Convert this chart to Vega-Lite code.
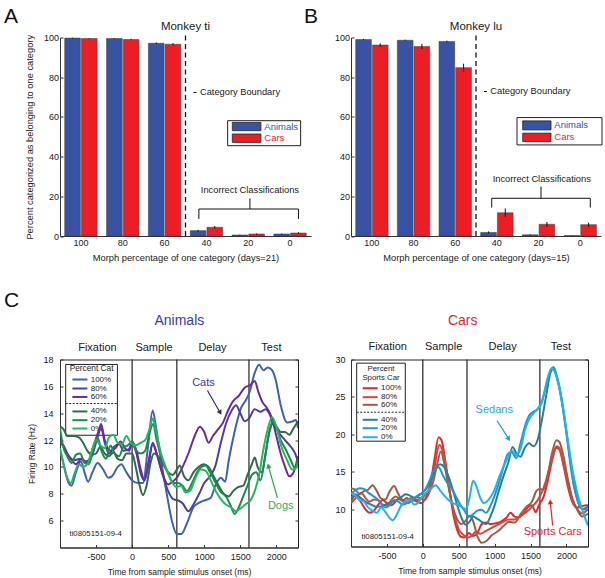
{
"$schema":"https://vega.github.io/schema/vega-lite/v6.json",
"padding":{"left":3,"top":5.5,"right":0,"bottom":0},
"config":{
 "font":"Liberation Sans",
 "view":{"stroke":null},
 "axis":{"grid":false,"domainColor":"#333","tickColor":"#333","labelColor":"#1a1a1a","titleColor":"#1a1a1a","labelFontSize":9,"titleFontSize":9.3,"titleFontWeight":"normal","labelFlush":false,"labelOverlap":false,"domainWidth":1,"tickWidth":1}
},
"datasets":{
 "perfTi":[
  {"morph":"100","category":"Animals","pct":99.7,"lo":99.5,"hi":99.9},
  {"morph":"100","category":"Cars","pct":99.5,"lo":99.3,"hi":99.7},
  {"morph":"80","category":"Animals","pct":99.5,"lo":99.3,"hi":99.7},
  {"morph":"80","category":"Cars","pct":99.0,"lo":98.7,"hi":99.3},
  {"morph":"60","category":"Animals","pct":97.1,"lo":96.7,"hi":97.5},
  {"morph":"60","category":"Cars","pct":96.6,"lo":96.0,"hi":97.2},
  {"morph":"40","category":"Animals","pct":2.7,"lo":2.3,"hi":3.1},
  {"morph":"40","category":"Cars","pct":4.4,"lo":3.8,"hi":5.0},
  {"morph":"20","category":"Animals","pct":0.5,"lo":0.3,"hi":0.7},
  {"morph":"20","category":"Cars","pct":1.0,"lo":0.7,"hi":1.3},
  {"morph":"0","category":"Animals","pct":1.0,"lo":0.7,"hi":1.3},
  {"morph":"0","category":"Cars","pct":1.5,"lo":1.1,"hi":1.9}
 ],
 "perfLu":[
  {"morph":"100","category":"Animals","pct":99.0,"lo":98.7,"hi":99.3},
  {"morph":"100","category":"Cars","pct":96.2,"lo":95.4,"hi":97.0},
  {"morph":"80","category":"Animals","pct":98.6,"lo":98.3,"hi":98.9},
  {"morph":"80","category":"Cars","pct":95.5,"lo":94.2,"hi":96.8},
  {"morph":"60","category":"Animals","pct":98.0,"lo":97.6,"hi":98.4},
  {"morph":"60","category":"Cars","pct":84.8,"lo":82.8,"hi":86.8},
  {"morph":"40","category":"Animals","pct":1.8,"lo":1.3,"hi":2.3},
  {"morph":"40","category":"Cars","pct":11.7,"lo":9.5,"hi":13.9},
  {"morph":"20","category":"Animals","pct":0.6,"lo":0.4,"hi":0.8},
  {"morph":"20","category":"Cars","pct":5.9,"lo":4.7,"hi":7.1},
  {"morph":"0","category":"Animals","pct":0.2,"lo":0.1,"hi":0.3},
  {"morph":"0","category":"Cars","pct":5.7,"lo":4.7,"hi":6.7}
 ],
 "animals":[
  {"pct":"100%","t":-1000,"hz":11.3},{"pct":"100%","t":-950,"hz":10.2},{"pct":"100%","t":-880,"hz":8.8},{"pct":"100%","t":-840,"hz":8.6},{"pct":"100%","t":-780,"hz":9.6},{"pct":"100%","t":-710,"hz":10.4},{"pct":"100%","t":-660,"hz":9.6},{"pct":"100%","t":-610,"hz":8.9},{"pct":"100%","t":-550,"hz":9.6},{"pct":"100%","t":-480,"hz":10.3},{"pct":"100%","t":-400,"hz":9.8},{"pct":"100%","t":-330,"hz":9.2},{"pct":"100%","t":-280,"hz":9.3},{"pct":"100%","t":-200,"hz":10.0},{"pct":"100%","t":-150,"hz":10.2},{"pct":"100%","t":-80,"hz":9.6},{"pct":"100%","t":0,"hz":9.0},{"pct":"100%","t":80,"hz":8.8},{"pct":"100%","t":150,"hz":8.8},{"pct":"100%","t":220,"hz":11.5},{"pct":"100%","t":285,"hz":14.2},{"pct":"100%","t":330,"hz":13.0},{"pct":"100%","t":400,"hz":10.5},{"pct":"100%","t":480,"hz":8.0},{"pct":"100%","t":560,"hz":5.8},{"pct":"100%","t":620,"hz":5.0},{"pct":"100%","t":680,"hz":5.0},{"pct":"100%","t":760,"hz":5.8},{"pct":"100%","t":850,"hz":7.0},{"pct":"100%","t":920,"hz":7.3},{"pct":"100%","t":1000,"hz":7.5},{"pct":"100%","t":1090,"hz":7.7},{"pct":"100%","t":1160,"hz":8.7},{"pct":"100%","t":1230,"hz":9.2},{"pct":"100%","t":1290,"hz":8.9},{"pct":"100%","t":1340,"hz":10.5},{"pct":"100%","t":1420,"hz":12.6},{"pct":"100%","t":1510,"hz":14.4},{"pct":"100%","t":1580,"hz":15.0},{"pct":"100%","t":1630,"hz":15.6},{"pct":"100%","t":1700,"hz":17.0},{"pct":"100%","t":1760,"hz":17.6},{"pct":"100%","t":1820,"hz":17.2},{"pct":"100%","t":1880,"hz":17.4},{"pct":"100%","t":1940,"hz":17.2},{"pct":"100%","t":1990,"hz":16.5},{"pct":"100%","t":2060,"hz":14.6},{"pct":"100%","t":2150,"hz":13.3},{"pct":"100%","t":2230,"hz":13.4},{"pct":"100%","t":2270,"hz":13.5},{"pct":"100%","t":2300,"hz":12.9},
  {"pct":"80%","t":-1000,"hz":11.9},{"pct":"80%","t":-950,"hz":11.5},{"pct":"80%","t":-880,"hz":10.8},{"pct":"80%","t":-800,"hz":10.5},{"pct":"80%","t":-720,"hz":10.6},{"pct":"80%","t":-650,"hz":10.4},{"pct":"80%","t":-560,"hz":10.8},{"pct":"80%","t":-480,"hz":12.2},{"pct":"80%","t":-430,"hz":12.9},{"pct":"80%","t":-380,"hz":11.8},{"pct":"80%","t":-320,"hz":11.0},{"pct":"80%","t":-250,"hz":11.5},{"pct":"80%","t":-180,"hz":11.7},{"pct":"80%","t":-120,"hz":11.2},{"pct":"80%","t":-50,"hz":11.3},{"pct":"80%","t":0,"hz":11.7},{"pct":"80%","t":60,"hz":11.0},{"pct":"80%","t":120,"hz":9.5},{"pct":"80%","t":170,"hz":9.0},{"pct":"80%","t":230,"hz":10.5},{"pct":"80%","t":285,"hz":11.7},{"pct":"80%","t":340,"hz":11.0},{"pct":"80%","t":420,"hz":9.5},{"pct":"80%","t":500,"hz":8.2},{"pct":"80%","t":570,"hz":7.6},{"pct":"80%","t":640,"hz":7.5},{"pct":"80%","t":700,"hz":7.3},{"pct":"80%","t":780,"hz":6.7},{"pct":"80%","t":850,"hz":7.2},{"pct":"80%","t":930,"hz":8.0},{"pct":"80%","t":1000,"hz":8.8},{"pct":"80%","t":1080,"hz":9.3},{"pct":"80%","t":1150,"hz":10.0},{"pct":"80%","t":1230,"hz":11.8},{"pct":"80%","t":1300,"hz":13.2},{"pct":"80%","t":1380,"hz":14.2},{"pct":"80%","t":1440,"hz":14.6},{"pct":"80%","t":1500,"hz":14.0},{"pct":"80%","t":1560,"hz":13.4},{"pct":"80%","t":1620,"hz":13.6},{"pct":"80%","t":1700,"hz":14.3},{"pct":"80%","t":1780,"hz":14.1},{"pct":"80%","t":1850,"hz":14.3},{"pct":"80%","t":1900,"hz":14.0},{"pct":"80%","t":1960,"hz":13.2},{"pct":"80%","t":2040,"hz":12.5},{"pct":"80%","t":2120,"hz":12.0},{"pct":"80%","t":2200,"hz":11.5},{"pct":"80%","t":2260,"hz":11.0},{"pct":"80%","t":2300,"hz":10.4},
  {"pct":"60%","t":-1000,"hz":11.8},{"pct":"60%","t":-950,"hz":11.6},{"pct":"60%","t":-900,"hz":11.0},{"pct":"60%","t":-850,"hz":10.6},{"pct":"60%","t":-780,"hz":10.2},{"pct":"60%","t":-700,"hz":10.6},{"pct":"60%","t":-620,"hz":10.3},{"pct":"60%","t":-540,"hz":11.5},{"pct":"60%","t":-470,"hz":12.6},{"pct":"60%","t":-430,"hz":13.2},{"pct":"60%","t":-380,"hz":12.0},{"pct":"60%","t":-300,"hz":11.2},{"pct":"60%","t":-230,"hz":11.4},{"pct":"60%","t":-160,"hz":11.9},{"pct":"60%","t":-100,"hz":11.4},{"pct":"60%","t":-40,"hz":11.2},{"pct":"60%","t":0,"hz":11.9},{"pct":"60%","t":60,"hz":11.2},{"pct":"60%","t":120,"hz":9.8},{"pct":"60%","t":170,"hz":9.0},{"pct":"60%","t":230,"hz":10.2},{"pct":"60%","t":285,"hz":11.8},{"pct":"60%","t":340,"hz":11.0},{"pct":"60%","t":420,"hz":9.5},{"pct":"60%","t":500,"hz":8.7},{"pct":"60%","t":560,"hz":8.9},{"pct":"60%","t":620,"hz":9.2},{"pct":"60%","t":700,"hz":10.0},{"pct":"60%","t":780,"hz":11.0},{"pct":"60%","t":860,"hz":12.2},{"pct":"60%","t":940,"hz":13.0},{"pct":"60%","t":1000,"hz":12.6},{"pct":"60%","t":1060,"hz":11.8},{"pct":"60%","t":1120,"hz":12.3},{"pct":"60%","t":1190,"hz":12.8},{"pct":"60%","t":1260,"hz":13.3},{"pct":"60%","t":1330,"hz":14.2},{"pct":"60%","t":1400,"hz":14.9},{"pct":"60%","t":1480,"hz":15.3},{"pct":"60%","t":1560,"hz":15.9},{"pct":"60%","t":1640,"hz":16.1},{"pct":"60%","t":1700,"hz":16.4},{"pct":"60%","t":1750,"hz":15.6},{"pct":"60%","t":1800,"hz":14.9},{"pct":"60%","t":1880,"hz":14.3},{"pct":"60%","t":1940,"hz":13.6},{"pct":"60%","t":2000,"hz":12.3},{"pct":"60%","t":2060,"hz":11.0},{"pct":"60%","t":2120,"hz":10.0},{"pct":"60%","t":2180,"hz":9.3},{"pct":"60%","t":2230,"hz":9.5},{"pct":"60%","t":2300,"hz":10.8},
  {"pct":"40%","t":-1000,"hz":13.0},{"pct":"40%","t":-950,"hz":12.8},{"pct":"40%","t":-900,"hz":12.3},{"pct":"40%","t":-820,"hz":12.3},{"pct":"40%","t":-740,"hz":12.2},{"pct":"40%","t":-680,"hz":11.8},{"pct":"40%","t":-620,"hz":11.2},{"pct":"40%","t":-560,"hz":10.9},{"pct":"40%","t":-500,"hz":11.0},{"pct":"40%","t":-440,"hz":11.5},{"pct":"40%","t":-380,"hz":11.0},{"pct":"40%","t":-320,"hz":10.8},{"pct":"40%","t":-260,"hz":11.1},{"pct":"40%","t":-200,"hz":10.6},{"pct":"40%","t":-140,"hz":10.5},{"pct":"40%","t":-80,"hz":11.0},{"pct":"40%","t":0,"hz":11.0},{"pct":"40%","t":50,"hz":10.0},{"pct":"40%","t":100,"hz":8.7},{"pct":"40%","t":150,"hz":7.9},{"pct":"40%","t":200,"hz":8.6},{"pct":"40%","t":260,"hz":10.4},{"pct":"40%","t":300,"hz":11.0},{"pct":"40%","t":360,"hz":10.8},{"pct":"40%","t":430,"hz":10.2},{"pct":"40%","t":500,"hz":9.6},{"pct":"40%","t":560,"hz":9.4},{"pct":"40%","t":620,"hz":9.8},{"pct":"40%","t":660,"hz":10.1},{"pct":"40%","t":720,"hz":9.3},{"pct":"40%","t":780,"hz":9.0},{"pct":"40%","t":850,"hz":9.6},{"pct":"40%","t":920,"hz":10.0},{"pct":"40%","t":990,"hz":10.2},{"pct":"40%","t":1060,"hz":10.0},{"pct":"40%","t":1130,"hz":9.3},{"pct":"40%","t":1200,"hz":8.6},{"pct":"40%","t":1270,"hz":8.0},{"pct":"40%","t":1340,"hz":7.8},{"pct":"40%","t":1400,"hz":8.2},{"pct":"40%","t":1470,"hz":8.5},{"pct":"40%","t":1540,"hz":8.6},{"pct":"40%","t":1600,"hz":9.4},{"pct":"40%","t":1660,"hz":10.2},{"pct":"40%","t":1700,"hz":10.7},{"pct":"40%","t":1740,"hz":10.0},{"pct":"40%","t":1800,"hz":9.6},{"pct":"40%","t":1850,"hz":11.0},{"pct":"40%","t":1900,"hz":12.5},{"pct":"40%","t":1950,"hz":13.2},{"pct":"40%","t":2000,"hz":13.0},{"pct":"40%","t":2060,"hz":12.6},{"pct":"40%","t":2120,"hz":12.6},{"pct":"40%","t":2180,"hz":12.4},{"pct":"40%","t":2240,"hz":12.9},{"pct":"40%","t":2300,"hz":13.4},
  {"pct":"20%","t":-1000,"hz":12.9},{"pct":"20%","t":-960,"hz":11.6},{"pct":"20%","t":-900,"hz":10.8},{"pct":"20%","t":-840,"hz":10.3},{"pct":"20%","t":-780,"hz":10.9},{"pct":"20%","t":-720,"hz":11.0},{"pct":"20%","t":-660,"hz":10.3},{"pct":"20%","t":-600,"hz":10.2},{"pct":"20%","t":-540,"hz":11.3},{"pct":"20%","t":-480,"hz":12.2},{"pct":"20%","t":-420,"hz":11.1},{"pct":"20%","t":-360,"hz":10.6},{"pct":"20%","t":-300,"hz":11.6},{"pct":"20%","t":-240,"hz":11.0},{"pct":"20%","t":-180,"hz":10.8},{"pct":"20%","t":-120,"hz":11.5},{"pct":"20%","t":-60,"hz":11.6},{"pct":"20%","t":0,"hz":11.9},{"pct":"20%","t":60,"hz":11.2},{"pct":"20%","t":120,"hz":11.0},{"pct":"20%","t":180,"hz":11.2},{"pct":"20%","t":240,"hz":12.5},{"pct":"20%","t":290,"hz":13.2},{"pct":"20%","t":340,"hz":12.0},{"pct":"20%","t":420,"hz":10.5},{"pct":"20%","t":500,"hz":9.5},{"pct":"20%","t":570,"hz":8.8},{"pct":"20%","t":640,"hz":8.8},{"pct":"20%","t":700,"hz":8.6},{"pct":"20%","t":760,"hz":8.2},{"pct":"20%","t":830,"hz":8.8},{"pct":"20%","t":900,"hz":9.6},{"pct":"20%","t":960,"hz":10.0},{"pct":"20%","t":1020,"hz":10.1},{"pct":"20%","t":1080,"hz":9.6},{"pct":"20%","t":1150,"hz":8.9},{"pct":"20%","t":1220,"hz":8.2},{"pct":"20%","t":1300,"hz":7.8},{"pct":"20%","t":1360,"hz":7.2},{"pct":"20%","t":1420,"hz":6.5},{"pct":"20%","t":1480,"hz":7.0},{"pct":"20%","t":1540,"hz":7.8},{"pct":"20%","t":1600,"hz":8.6},{"pct":"20%","t":1660,"hz":9.4},{"pct":"20%","t":1720,"hz":9.6},{"pct":"20%","t":1780,"hz":9.0},{"pct":"20%","t":1840,"hz":10.6},{"pct":"20%","t":1900,"hz":12.6},{"pct":"20%","t":1950,"hz":13.4},{"pct":"20%","t":2000,"hz":13.0},{"pct":"20%","t":2060,"hz":12.0},{"pct":"20%","t":2130,"hz":11.3},{"pct":"20%","t":2200,"hz":10.5},{"pct":"20%","t":2260,"hz":9.9},{"pct":"20%","t":2300,"hz":10.6},
  {"pct":"0%","t":-1000,"hz":11.4},{"pct":"0%","t":-960,"hz":10.4},{"pct":"0%","t":-900,"hz":9.2},{"pct":"0%","t":-850,"hz":8.8},{"pct":"0%","t":-800,"hz":9.5},{"pct":"0%","t":-740,"hz":10.2},{"pct":"0%","t":-680,"hz":10.0},{"pct":"0%","t":-620,"hz":10.2},{"pct":"0%","t":-560,"hz":11.2},{"pct":"0%","t":-500,"hz":12.0},{"pct":"0%","t":-440,"hz":11.6},{"pct":"0%","t":-380,"hz":11.4},{"pct":"0%","t":-320,"hz":12.2},{"pct":"0%","t":-260,"hz":12.4},{"pct":"0%","t":-200,"hz":11.8},{"pct":"0%","t":-140,"hz":11.7},{"pct":"0%","t":-80,"hz":12.3},{"pct":"0%","t":-20,"hz":11.8},{"pct":"0%","t":40,"hz":11.6},{"pct":"0%","t":120,"hz":11.8},{"pct":"0%","t":180,"hz":12.0},{"pct":"0%","t":240,"hz":12.8},{"pct":"0%","t":285,"hz":13.6},{"pct":"0%","t":330,"hz":12.7},{"pct":"0%","t":400,"hz":11.0},{"pct":"0%","t":480,"hz":9.8},{"pct":"0%","t":550,"hz":8.9},{"pct":"0%","t":620,"hz":8.5},{"pct":"0%","t":680,"hz":8.6},{"pct":"0%","t":740,"hz":8.1},{"pct":"0%","t":800,"hz":8.2},{"pct":"0%","t":880,"hz":9.2},{"pct":"0%","t":950,"hz":9.8},{"pct":"0%","t":1020,"hz":9.7},{"pct":"0%","t":1090,"hz":9.0},{"pct":"0%","t":1160,"hz":8.2},{"pct":"0%","t":1230,"hz":7.6},{"pct":"0%","t":1300,"hz":7.2},{"pct":"0%","t":1370,"hz":7.0},{"pct":"0%","t":1440,"hz":6.7},{"pct":"0%","t":1500,"hz":6.9},{"pct":"0%","t":1570,"hz":7.2},{"pct":"0%","t":1640,"hz":7.5},{"pct":"0%","t":1700,"hz":8.2},{"pct":"0%","t":1760,"hz":9.4},{"pct":"0%","t":1820,"hz":11.3},{"pct":"0%","t":1880,"hz":12.8},{"pct":"0%","t":1940,"hz":13.7},{"pct":"0%","t":2000,"hz":13.0},{"pct":"0%","t":2070,"hz":11.5},{"pct":"0%","t":2150,"hz":10.5},{"pct":"0%","t":2220,"hz":9.8},{"pct":"0%","t":2270,"hz":9.9},{"pct":"0%","t":2300,"hz":10.3}
 ],
 "cars":[
  {"pct":"100%","t":-1000,"hz":11.0},{"pct":"100%","t":-940,"hz":11.8},{"pct":"100%","t":-880,"hz":11.2},{"pct":"100%","t":-800,"hz":10.0},{"pct":"100%","t":-740,"hz":9.5},{"pct":"100%","t":-680,"hz":9.8},{"pct":"100%","t":-620,"hz":10.6},{"pct":"100%","t":-560,"hz":11.2},{"pct":"100%","t":-500,"hz":10.8},{"pct":"100%","t":-440,"hz":10.5},{"pct":"100%","t":-380,"hz":11.0},{"pct":"100%","t":-320,"hz":11.5},{"pct":"100%","t":-260,"hz":11.0},{"pct":"100%","t":-200,"hz":10.8},{"pct":"100%","t":-140,"hz":11.2},{"pct":"100%","t":-80,"hz":11.0},{"pct":"100%","t":-20,"hz":10.8},{"pct":"100%","t":40,"hz":11.5},{"pct":"100%","t":100,"hz":13.0},{"pct":"100%","t":160,"hz":16.5},{"pct":"100%","t":220,"hz":19.6},{"pct":"100%","t":260,"hz":19.2},{"pct":"100%","t":320,"hz":16.0},{"pct":"100%","t":380,"hz":12.0},{"pct":"100%","t":430,"hz":9.0},{"pct":"100%","t":480,"hz":7.2},{"pct":"100%","t":530,"hz":6.3},{"pct":"100%","t":580,"hz":6.2},{"pct":"100%","t":640,"hz":6.8},{"pct":"100%","t":700,"hz":6.4},{"pct":"100%","t":760,"hz":6.8},{"pct":"100%","t":820,"hz":8.0},{"pct":"100%","t":880,"hz":8.2},{"pct":"100%","t":950,"hz":8.0},{"pct":"100%","t":1020,"hz":8.1},{"pct":"100%","t":1100,"hz":8.4},{"pct":"100%","t":1160,"hz":8.8},{"pct":"100%","t":1220,"hz":9.5},{"pct":"100%","t":1280,"hz":9.0},{"pct":"100%","t":1340,"hz":8.9},{"pct":"100%","t":1400,"hz":9.4},{"pct":"100%","t":1460,"hz":10.2},{"pct":"100%","t":1520,"hz":10.5},{"pct":"100%","t":1570,"hz":9.6},{"pct":"100%","t":1620,"hz":10.6},{"pct":"100%","t":1680,"hz":11.6},{"pct":"100%","t":1740,"hz":13.8},{"pct":"100%","t":1800,"hz":16.5},{"pct":"100%","t":1860,"hz":18.2},{"pct":"100%","t":1900,"hz":18.0},{"pct":"100%","t":1960,"hz":15.8},{"pct":"100%","t":2020,"hz":13.0},{"pct":"100%","t":2080,"hz":11.0},{"pct":"100%","t":2150,"hz":10.2},{"pct":"100%","t":2220,"hz":10.4},{"pct":"100%","t":2300,"hz":10.5},
  {"pct":"80%","t":-1000,"hz":10.8},{"pct":"80%","t":-930,"hz":11.5},{"pct":"80%","t":-860,"hz":12.2},{"pct":"80%","t":-800,"hz":11.5},{"pct":"80%","t":-740,"hz":11.0},{"pct":"80%","t":-680,"hz":11.3},{"pct":"80%","t":-620,"hz":11.2},{"pct":"80%","t":-560,"hz":10.6},{"pct":"80%","t":-500,"hz":10.5},{"pct":"80%","t":-440,"hz":11.2},{"pct":"80%","t":-380,"hz":11.7},{"pct":"80%","t":-320,"hz":11.3},{"pct":"80%","t":-260,"hz":11.0},{"pct":"80%","t":-200,"hz":11.3},{"pct":"80%","t":-140,"hz":11.6},{"pct":"80%","t":-80,"hz":11.2},{"pct":"80%","t":-20,"hz":11.4},{"pct":"80%","t":40,"hz":12.0},{"pct":"80%","t":100,"hz":13.0},{"pct":"80%","t":160,"hz":15.5},{"pct":"80%","t":230,"hz":18.6},{"pct":"80%","t":280,"hz":17.6},{"pct":"80%","t":340,"hz":14.5},{"pct":"80%","t":400,"hz":11.0},{"pct":"80%","t":450,"hz":8.8},{"pct":"80%","t":500,"hz":7.3},{"pct":"80%","t":560,"hz":6.6},{"pct":"80%","t":620,"hz":6.2},{"pct":"80%","t":680,"hz":6.4},{"pct":"80%","t":740,"hz":7.0},{"pct":"80%","t":800,"hz":6.7},{"pct":"80%","t":880,"hz":7.1},{"pct":"80%","t":960,"hz":7.5},{"pct":"80%","t":1040,"hz":7.9},{"pct":"80%","t":1120,"hz":8.3},{"pct":"80%","t":1200,"hz":8.6},{"pct":"80%","t":1280,"hz":8.6},{"pct":"80%","t":1360,"hz":9.1},{"pct":"80%","t":1440,"hz":9.6},{"pct":"80%","t":1520,"hz":10.3},{"pct":"80%","t":1600,"hz":11.2},{"pct":"80%","t":1660,"hz":12.3},{"pct":"80%","t":1720,"hz":14.0},{"pct":"80%","t":1790,"hz":16.4},{"pct":"80%","t":1860,"hz":18.4},{"pct":"80%","t":1900,"hz":18.2},{"pct":"80%","t":1960,"hz":16.0},{"pct":"80%","t":2020,"hz":13.5},{"pct":"80%","t":2080,"hz":11.3},{"pct":"80%","t":2150,"hz":10.0},{"pct":"80%","t":2220,"hz":9.4},{"pct":"80%","t":2300,"hz":10.0},
  {"pct":"60%","t":-1000,"hz":12.8},{"pct":"60%","t":-940,"hz":12.6},{"pct":"60%","t":-880,"hz":12.0},{"pct":"60%","t":-820,"hz":12.4},{"pct":"60%","t":-760,"hz":12.6},{"pct":"60%","t":-700,"hz":13.2},{"pct":"60%","t":-640,"hz":12.4},{"pct":"60%","t":-580,"hz":11.4},{"pct":"60%","t":-520,"hz":11.3},{"pct":"60%","t":-460,"hz":12.4},{"pct":"60%","t":-400,"hz":13.1},{"pct":"60%","t":-340,"hz":12.0},{"pct":"60%","t":-280,"hz":11.2},{"pct":"60%","t":-220,"hz":11.5},{"pct":"60%","t":-160,"hz":11.0},{"pct":"60%","t":-100,"hz":11.6},{"pct":"60%","t":-40,"hz":11.5},{"pct":"60%","t":20,"hz":11.2},{"pct":"60%","t":80,"hz":12.0},{"pct":"60%","t":140,"hz":13.5},{"pct":"60%","t":200,"hz":16.0},{"pct":"60%","t":250,"hz":17.7},{"pct":"60%","t":300,"hz":16.0},{"pct":"60%","t":360,"hz":12.8},{"pct":"60%","t":420,"hz":10.2},{"pct":"60%","t":480,"hz":8.6},{"pct":"60%","t":540,"hz":8.0},{"pct":"60%","t":600,"hz":8.5},{"pct":"60%","t":650,"hz":9.1},{"pct":"60%","t":700,"hz":8.4},{"pct":"60%","t":760,"hz":6.4},{"pct":"60%","t":820,"hz":5.5},{"pct":"60%","t":880,"hz":5.7},{"pct":"60%","t":960,"hz":6.5},{"pct":"60%","t":1040,"hz":7.0},{"pct":"60%","t":1120,"hz":7.7},{"pct":"60%","t":1200,"hz":8.3},{"pct":"60%","t":1280,"hz":8.2},{"pct":"60%","t":1360,"hz":9.3},{"pct":"60%","t":1440,"hz":10.3},{"pct":"60%","t":1520,"hz":11.0},{"pct":"60%","t":1580,"hz":12.4},{"pct":"60%","t":1620,"hz":12.7},{"pct":"60%","t":1680,"hz":12.6},{"pct":"60%","t":1740,"hz":14.6},{"pct":"60%","t":1800,"hz":17.5},{"pct":"60%","t":1860,"hz":19.2},{"pct":"60%","t":1900,"hz":19.0},{"pct":"60%","t":1960,"hz":17.0},{"pct":"60%","t":2020,"hz":14.0},{"pct":"60%","t":2080,"hz":11.5},{"pct":"60%","t":2150,"hz":9.9},{"pct":"60%","t":2220,"hz":9.0},{"pct":"60%","t":2300,"hz":9.4},
  {"pct":"40%","t":-1000,"hz":11.5},{"pct":"40%","t":-940,"hz":12.0},{"pct":"40%","t":-880,"hz":11.6},{"pct":"40%","t":-800,"hz":11.0},{"pct":"40%","t":-720,"hz":10.6},{"pct":"40%","t":-640,"hz":10.3},{"pct":"40%","t":-560,"hz":10.4},{"pct":"40%","t":-480,"hz":10.8},{"pct":"40%","t":-420,"hz":11.0},{"pct":"40%","t":-360,"hz":11.2},{"pct":"40%","t":-300,"hz":11.6},{"pct":"40%","t":-240,"hz":12.0},{"pct":"40%","t":-180,"hz":11.8},{"pct":"40%","t":-120,"hz":11.5},{"pct":"40%","t":-60,"hz":11.8},{"pct":"40%","t":0,"hz":12.2},{"pct":"40%","t":80,"hz":13.2},{"pct":"40%","t":160,"hz":15.0},{"pct":"40%","t":240,"hz":16.0},{"pct":"40%","t":300,"hz":15.6},{"pct":"40%","t":360,"hz":14.3},{"pct":"40%","t":420,"hz":12.5},{"pct":"40%","t":480,"hz":10.5},{"pct":"40%","t":540,"hz":8.8},{"pct":"40%","t":600,"hz":7.9},{"pct":"40%","t":650,"hz":8.3},{"pct":"40%","t":700,"hz":9.0},{"pct":"40%","t":760,"hz":8.7},{"pct":"40%","t":820,"hz":8.3},{"pct":"40%","t":880,"hz":8.0},{"pct":"40%","t":940,"hz":9.0},{"pct":"40%","t":1000,"hz":10.5},{"pct":"40%","t":1060,"hz":12.5},{"pct":"40%","t":1130,"hz":14.6},{"pct":"40%","t":1190,"hz":16.2},{"pct":"40%","t":1250,"hz":18.3},{"pct":"40%","t":1300,"hz":17.5},{"pct":"40%","t":1360,"hz":17.0},{"pct":"40%","t":1420,"hz":18.2},{"pct":"40%","t":1480,"hz":18.8},{"pct":"40%","t":1540,"hz":18.4},{"pct":"40%","t":1600,"hz":19.3},{"pct":"40%","t":1660,"hz":22.0},{"pct":"40%","t":1720,"hz":25.3},{"pct":"40%","t":1780,"hz":28.3},{"pct":"40%","t":1820,"hz":28.8},{"pct":"40%","t":1860,"hz":27.8},{"pct":"40%","t":1920,"hz":25.2},{"pct":"40%","t":1980,"hz":21.5},{"pct":"40%","t":2040,"hz":17.5},{"pct":"40%","t":2100,"hz":13.5},{"pct":"40%","t":2160,"hz":11.0},{"pct":"40%","t":2220,"hz":10.0},{"pct":"40%","t":2300,"hz":10.3},
  {"pct":"20%","t":-1000,"hz":12.0},{"pct":"20%","t":-940,"hz":12.5},{"pct":"20%","t":-880,"hz":12.8},{"pct":"20%","t":-820,"hz":12.7},{"pct":"20%","t":-760,"hz":12.2},{"pct":"20%","t":-700,"hz":11.8},{"pct":"20%","t":-640,"hz":11.4},{"pct":"20%","t":-580,"hz":10.7},{"pct":"20%","t":-520,"hz":10.2},{"pct":"20%","t":-460,"hz":10.5},{"pct":"20%","t":-400,"hz":11.2},{"pct":"20%","t":-340,"hz":11.0},{"pct":"20%","t":-280,"hz":10.6},{"pct":"20%","t":-220,"hz":10.8},{"pct":"20%","t":-160,"hz":11.2},{"pct":"20%","t":-100,"hz":11.6},{"pct":"20%","t":-40,"hz":12.0},{"pct":"20%","t":20,"hz":12.4},{"pct":"20%","t":80,"hz":13.5},{"pct":"20%","t":160,"hz":15.3},{"pct":"20%","t":220,"hz":15.6},{"pct":"20%","t":280,"hz":14.5},{"pct":"20%","t":340,"hz":13.5},{"pct":"20%","t":400,"hz":12.8},{"pct":"20%","t":460,"hz":11.7},{"pct":"20%","t":520,"hz":10.6},{"pct":"20%","t":580,"hz":9.8},{"pct":"20%","t":640,"hz":9.0},{"pct":"20%","t":700,"hz":9.3},{"pct":"20%","t":760,"hz":9.8},{"pct":"20%","t":820,"hz":9.9},{"pct":"20%","t":880,"hz":9.5},{"pct":"20%","t":940,"hz":10.4},{"pct":"20%","t":1000,"hz":11.8},{"pct":"20%","t":1060,"hz":13.5},{"pct":"20%","t":1120,"hz":15.5},{"pct":"20%","t":1180,"hz":17.3},{"pct":"20%","t":1240,"hz":17.6},{"pct":"20%","t":1300,"hz":16.8},{"pct":"20%","t":1360,"hz":18.8},{"pct":"20%","t":1420,"hz":21.0},{"pct":"20%","t":1480,"hz":22.5},{"pct":"20%","t":1540,"hz":23.0},{"pct":"20%","t":1600,"hz":23.4},{"pct":"20%","t":1660,"hz":24.5},{"pct":"20%","t":1720,"hz":26.5},{"pct":"20%","t":1780,"hz":28.6},{"pct":"20%","t":1820,"hz":29.0},{"pct":"20%","t":1860,"hz":28.0},{"pct":"20%","t":1920,"hz":25.5},{"pct":"20%","t":1980,"hz":21.8},{"pct":"20%","t":2040,"hz":17.0},{"pct":"20%","t":2100,"hz":13.2},{"pct":"20%","t":2160,"hz":11.0},{"pct":"20%","t":2220,"hz":10.0},{"pct":"20%","t":2300,"hz":9.9},
  {"pct":"0%","t":-1000,"hz":12.2},{"pct":"0%","t":-940,"hz":11.8},{"pct":"0%","t":-880,"hz":11.2},{"pct":"0%","t":-820,"hz":11.0},{"pct":"0%","t":-760,"hz":10.2},{"pct":"0%","t":-700,"hz":9.8},{"pct":"0%","t":-640,"hz":9.5},{"pct":"0%","t":-580,"hz":10.2},{"pct":"0%","t":-520,"hz":9.6},{"pct":"0%","t":-460,"hz":8.8},{"pct":"0%","t":-420,"hz":8.5},{"pct":"0%","t":-360,"hz":9.3},{"pct":"0%","t":-300,"hz":10.5},{"pct":"0%","t":-240,"hz":11.0},{"pct":"0%","t":-180,"hz":11.3},{"pct":"0%","t":-120,"hz":10.6},{"pct":"0%","t":-60,"hz":10.9},{"pct":"0%","t":0,"hz":11.8},{"pct":"0%","t":60,"hz":12.3},{"pct":"0%","t":120,"hz":12.8},{"pct":"0%","t":180,"hz":13.2},{"pct":"0%","t":240,"hz":12.5},{"pct":"0%","t":300,"hz":11.8},{"pct":"0%","t":360,"hz":11.2},{"pct":"0%","t":420,"hz":10.8},{"pct":"0%","t":480,"hz":10.6},{"pct":"0%","t":540,"hz":10.3},{"pct":"0%","t":600,"hz":10.0},{"pct":"0%","t":650,"hz":11.5},{"pct":"0%","t":700,"hz":13.8},{"pct":"0%","t":740,"hz":13.2},{"pct":"0%","t":800,"hz":11.5},{"pct":"0%","t":850,"hz":10.8},{"pct":"0%","t":920,"hz":11.3},{"pct":"0%","t":990,"hz":12.4},{"pct":"0%","t":1060,"hz":14.2},{"pct":"0%","t":1120,"hz":15.6},{"pct":"0%","t":1180,"hz":16.8},{"pct":"0%","t":1240,"hz":17.8},{"pct":"0%","t":1300,"hz":17.2},{"pct":"0%","t":1360,"hz":18.0},{"pct":"0%","t":1420,"hz":20.5},{"pct":"0%","t":1480,"hz":22.0},{"pct":"0%","t":1540,"hz":22.8},{"pct":"0%","t":1600,"hz":23.4},{"pct":"0%","t":1660,"hz":24.3},{"pct":"0%","t":1720,"hz":26.9},{"pct":"0%","t":1790,"hz":28.8},{"pct":"0%","t":1840,"hz":28.3},{"pct":"0%","t":1900,"hz":26.3},{"pct":"0%","t":1960,"hz":23.0},{"pct":"0%","t":2020,"hz":19.2},{"pct":"0%","t":2080,"hz":15.5},{"pct":"0%","t":2140,"hz":12.6},{"pct":"0%","t":2200,"hz":10.5},{"pct":"0%","t":2260,"hz":8.8},{"pct":"0%","t":2300,"hz":7.8}
 ]
},
"concat":[
  {"width":251,"height":198.5,
   "layer":[
    {"data":{"name":"perfTi"},"mark":{"type":"bar","stroke":"#3a3a3a","strokeWidth":0.5},
     "encoding":{
      "x":{"field":"morph","type":"nominal","sort":["100","80","60","40","20","0"],"scale":{"paddingInner":0.225,"paddingOuter":0.1125},"axis":{"orient":"bottom","title":"Morph percentage of one category (days=21)","labelAngle":0,"ticks":false,"labelPadding":2.5,"titlePadding":6}},
      "xOffset":{"field":"category","type":"nominal","sort":["Animals","Cars"],"scale":{"paddingInner":0.06}},
      "y":{"field":"pct","type":"quantitative","scale":{"domain":[0,100],"nice":false},"axis":{"orient":"left","values":[0,20,40,60,80,100],"title":"Percent categorized as belonging to one category","tickSize":-3,"labelPadding":4.5,"titlePadding":9}},
      "color":{"field":"category","type":"nominal","scale":{"domain":["Animals","Cars"],"range":["#3953a4","#ec1e25"]},"legend":null}}},
    {"data":{"name":"perfTi"},"mark":{"type":"rule","color":"#111","strokeWidth":1},
     "encoding":{
      "x":{"field":"morph","type":"nominal","sort":["100","80","60","40","20","0"],"scale":{"paddingInner":0.225,"paddingOuter":0.1125},"axis":null},
      "xOffset":{"field":"category","type":"nominal","sort":["Animals","Cars"],"scale":{"paddingInner":0.06}},
      "y":{"field":"lo","type":"quantitative","scale":{"domain":[0,100],"nice":false},"axis":null},
      "y2":{"field":"hi"}}},
    {"data":{"values":[{"ax":3.5,"ay":0,"ay2":101}]},"mark":{"type":"rule","strokeDash":[5,3.5],"color":"#111","strokeWidth":1.3},
     "encoding":{"x":{"field":"ax","type":"quantitative","scale":{"domain":[0.5,6.5],"nice":false,"zero":false},"axis":null},"y":{"field":"ay","type":"quantitative","scale":{"domain":[0,100],"nice":false},"axis":null},"y2":{"field":"ay2"}}},
    {"data":{"values":[{"ax":3.69,"ax2":3.76,"ay":72.3,"ay2":72.3},{"ax":3.82,"ax2":6.2,"ay":13.6,"ay2":13.6},{"ax":3.82,"ax2":3.82,"ay":13.6,"ay2":8.6},{"ax":6.2,"ax2":6.2,"ay":13.6,"ay2":8.6},{"ax":5.04,"ax2":5.04,"ay":13.6,"ay2":18.9}]},"mark":{"type":"rule","color":"#111","strokeWidth":1},
     "encoding":{"x":{"field":"ax","type":"quantitative","scale":{"domain":[0.5,6.5],"nice":false,"zero":false},"axis":null},"x2":{"field":"ax2"},"y":{"field":"ay","type":"quantitative","scale":{"domain":[0,100],"nice":false},"axis":null},"y2":{"field":"ay2"}}},
    {"data":{"values":[{"ax":3.845,"ay":72.3,"label":"Category Boundary"}]},"mark":{"type":"text","align":"left","baseline":"middle","fontSize":9.3,"color":"#1a1a1a"},
     "encoding":{"x":{"field":"ax","type":"quantitative","scale":{"domain":[0.5,6.5],"nice":false,"zero":false},"axis":null},"y":{"field":"ay","type":"quantitative","scale":{"domain":[0,100],"nice":false},"axis":null},"text":{"field":"label"}}},
    {"data":{"values":[{"ax":5.04,"ay":23.3,"label":"Incorrect Classifications"},{"ax":3.5,"ay":105.04,"label":"Monkey ti"}]},"mark":{"type":"text","align":"center","baseline":"middle","fontSize":9.3,"color":"#1a1a1a"},
     "encoding":{"x":{"field":"ax","type":"quantitative","scale":{"domain":[0.5,6.5],"nice":false,"zero":false},"axis":null},"y":{"field":"ay","type":"quantitative","scale":{"domain":[0,100],"nice":false},"axis":null},"text":{"field":"label"},"size":{"condition":{"test":"datum.label === 'Monkey ti'","value":11.5},"value":9.3}}},
    {"data":{"values":[{"ax":4.507,"ax2":6.252,"ay":58.09,"ay2":45.49}]},"mark":{"type":"rect","fill":"white","stroke":"#222","strokeWidth":1},
     "encoding":{"x":{"field":"ax","type":"quantitative","scale":{"domain":[0.5,6.5],"nice":false,"zero":false},"axis":null},"x2":{"field":"ax2"},"y":{"field":"ay","type":"quantitative","scale":{"domain":[0,100],"nice":false},"axis":null},"y2":{"field":"ay2"}}},
    {"data":{"values":[{"category":"Animals","ay":57.23,"ay2":53.05},{"category":"Cars","ay":51.39,"ay2":47.15}]},"mark":{"type":"rect","stroke":"#222","strokeWidth":0.8},
     "encoding":{"x":{"datum":4.619,"type":"quantitative","scale":{"domain":[0.5,6.5],"nice":false,"zero":false},"axis":null},"x2":{"datum":5.303},"y":{"field":"ay","type":"quantitative","scale":{"domain":[0,100],"nice":false},"axis":null},"y2":{"field":"ay2"},"color":{"field":"category","type":"nominal","legend":null}}},
    {"data":{"values":[{"category":"Animals","ay":55.06},{"category":"Cars","ay":49.27}]},"mark":{"type":"text","align":"left","baseline":"middle","fontSize":9.5},
     "encoding":{"x":{"datum":5.384,"type":"quantitative","scale":{"domain":[0.5,6.5],"nice":false,"zero":false},"axis":null},"y":{"field":"ay","type":"quantitative","scale":{"domain":[0,100],"nice":false},"axis":null},"text":{"field":"category"},"color":{"field":"category","type":"nominal","legend":null}}},
    {"data":{"values":[{"ax":-0.839,"ay":115.7,"label":"A"}]},"mark":{"type":"text","align":"left","baseline":"top","fontSize":21,"color":"#111"},
     "encoding":{"x":{"field":"ax","type":"quantitative","scale":{"domain":[0.5,6.5],"nice":false,"zero":false},"axis":null},"y":{"field":"ay","type":"quantitative","scale":{"domain":[0,100],"nice":false},"axis":null},"text":{"field":"label"}}}
   ],
   "resolve":{"scale":{"x":"independent"},"axis":{"x":"independent","y":"independent"}}
  },
  {"width":250,"height":198.5,
   "layer":[
    {"data":{"name":"perfLu"},"mark":{"type":"bar","stroke":"#3a3a3a","strokeWidth":0.5},
     "encoding":{
      "x":{"field":"morph","type":"nominal","sort":["100","80","60","40","20","0"],"scale":{"paddingInner":0.225,"paddingOuter":0.1125},"axis":{"orient":"bottom","title":"Morph percentage of one category (days=15)","labelAngle":0,"ticks":false,"labelPadding":2.5,"titlePadding":6}},
      "xOffset":{"field":"category","type":"nominal","sort":["Animals","Cars"],"scale":{"paddingInner":0.06}},
      "y":{"field":"pct","type":"quantitative","scale":{"domain":[0,100],"nice":false},"axis":{"orient":"left","values":[0,20,40,60,80,100],"title":null,"tickSize":-3,"labelPadding":4.5}},
      "color":{"field":"category","type":"nominal","scale":{"domain":["Animals","Cars"],"range":["#3953a4","#ec1e25"]},"legend":null}}},
    {"data":{"name":"perfLu"},"mark":{"type":"rule","color":"#111","strokeWidth":1},
     "encoding":{
      "x":{"field":"morph","type":"nominal","sort":["100","80","60","40","20","0"],"scale":{"paddingInner":0.225,"paddingOuter":0.1125},"axis":null},
      "xOffset":{"field":"category","type":"nominal","sort":["Animals","Cars"],"scale":{"paddingInner":0.06}},
      "y":{"field":"lo","type":"quantitative","scale":{"domain":[0,100],"nice":false},"axis":null},
      "y2":{"field":"hi"}}},
    {"data":{"values":[{"ax":3.5,"ay":0,"ay2":101}]},"mark":{"type":"rule","strokeDash":[5,3.5],"color":"#111","strokeWidth":1.3},
     "encoding":{"x":{"field":"ax","type":"quantitative","scale":{"domain":[0.5,6.5],"nice":false,"zero":false},"axis":null},"y":{"field":"ay","type":"quantitative","scale":{"domain":[0,100],"nice":false},"axis":null},"y2":{"field":"ay2"}}},
    {"data":{"values":[{"ax":3.69,"ax2":3.76,"ay":72.8,"ay2":72.8},{"ax":3.877,"ax2":6.243,"ay":19.0,"ay2":19.0},{"ax":3.877,"ax2":3.877,"ay":19.0,"ay2":14.3},{"ax":6.243,"ax2":6.243,"ay":19.0,"ay2":14.3},{"ax":5.06,"ax2":5.06,"ay":19.0,"ay2":24.9}]},"mark":{"type":"rule","color":"#111","strokeWidth":1},
     "encoding":{"x":{"field":"ax","type":"quantitative","scale":{"domain":[0.5,6.5],"nice":false,"zero":false},"axis":null},"x2":{"field":"ax2"},"y":{"field":"ay","type":"quantitative","scale":{"domain":[0,100],"nice":false},"axis":null},"y2":{"field":"ay2"}}},
    {"data":{"values":[{"ax":3.843,"ay":72.8,"label":"Category Boundary"}]},"mark":{"type":"text","align":"left","baseline":"middle","fontSize":9.3,"color":"#1a1a1a"},
     "encoding":{"x":{"field":"ax","type":"quantitative","scale":{"domain":[0.5,6.5],"nice":false,"zero":false},"axis":null},"y":{"field":"ay","type":"quantitative","scale":{"domain":[0,100],"nice":false},"axis":null},"text":{"field":"label"}}},
    {"data":{"values":[{"ax":5.077,"ay":28.9,"label":"Incorrect Classifications"},{"ax":3.5,"ay":105.3,"label":"Monkey lu"}]},"mark":{"type":"text","align":"center","baseline":"middle","fontSize":9.3,"color":"#1a1a1a"},
     "encoding":{"x":{"field":"ax","type":"quantitative","scale":{"domain":[0.5,6.5],"nice":false,"zero":false},"axis":null},"y":{"field":"ay","type":"quantitative","scale":{"domain":[0,100],"nice":false},"axis":null},"text":{"field":"label"},"size":{"condition":{"test":"datum.label === 'Monkey lu'","value":11.5},"value":9.3}}},
    {"data":{"values":[{"ax":4.484,"ax2":6.524,"ay":59.66,"ay2":45.89}]},"mark":{"type":"rect","fill":"white","stroke":"#222","strokeWidth":1},
     "encoding":{"x":{"field":"ax","type":"quantitative","scale":{"domain":[0.5,6.5],"nice":false,"zero":false},"axis":null},"x2":{"field":"ax2"},"y":{"field":"ay","type":"quantitative","scale":{"domain":[0,100],"nice":false},"axis":null},"y2":{"field":"ay2"}}},
    {"data":{"values":[{"category":"Animals","ay":57.99,"ay2":53.45},{"category":"Cars","ay":51.79,"ay2":47.55}]},"mark":{"type":"rect","stroke":"#222","strokeWidth":0.8},
     "encoding":{"x":{"datum":4.621,"type":"quantitative","scale":{"domain":[0.5,6.5],"nice":false,"zero":false},"axis":null},"x2":{"datum":5.3},"y":{"field":"ay","type":"quantitative","scale":{"domain":[0,100],"nice":false},"axis":null},"y2":{"field":"ay2"},"color":{"field":"category","type":"nominal","legend":null}}},
    {"data":{"values":[{"category":"Animals","ay":55.72},{"category":"Cars","ay":49.67}]},"mark":{"type":"text","align":"left","baseline":"middle","fontSize":9.5},
     "encoding":{"x":{"datum":5.379,"type":"quantitative","scale":{"domain":[0.5,6.5],"nice":false,"zero":false},"axis":null},"y":{"field":"ay","type":"quantitative","scale":{"domain":[0,100],"nice":false},"axis":null},"text":{"field":"category"},"color":{"field":"category","type":"nominal","legend":null}}},
    {"data":{"values":[{"ax":-0.628,"ay":115.7,"label":"B"}]},"mark":{"type":"text","align":"left","baseline":"top","fontSize":21,"color":"#111"},
     "encoding":{"x":{"field":"ax","type":"quantitative","scale":{"domain":[0.5,6.5],"nice":false,"zero":false},"axis":null},"y":{"field":"ay","type":"quantitative","scale":{"domain":[0,100],"nice":false},"axis":null},"text":{"field":"label"}}}
   ],
   "resolve":{"scale":{"x":"independent"},"axis":{"x":"independent","y":"independent"}}
  },
  {"width":238,"height":188,
   "view":{"stroke":"#222","strokeWidth":1},
   "layer":[
    {"data":{"values":[{"t":0},{"t":620},{"t":1620}]},"mark":{"type":"rule","color":"#222","strokeWidth":1.2},
     "encoding":{"x":{"field":"t","type":"quantitative","scale":{"domain":[-1000,2300],"nice":false,"zero":false},"axis":null}}},
    {"data":{"values":[{"t":-921,"t2":-204,"hz":17.63,"hz2":12.36}]},"mark":{"type":"rect","fill":"white","stroke":"#222","strokeWidth":1},
     "encoding":{"x":{"field":"t","type":"quantitative","scale":{"domain":[-1000,2300],"nice":false,"zero":false},"axis":null},"x2":{"field":"t2"},"y":{"field":"hz","type":"quantitative","scale":{"domain":[4,18],"nice":false,"zero":false},"axis":null},"y2":{"field":"hz2"}}},
    {"data":{"values":[{"t":-921,"t2":-204,"hz":14.72}]},"mark":{"type":"rule","color":"#222","strokeWidth":1,"strokeDash":[2,1.5]},
     "encoding":{"x":{"field":"t","type":"quantitative","scale":{"domain":[-1000,2300],"nice":false,"zero":false},"axis":null},"x2":{"field":"t2"},"y":{"field":"hz","type":"quantitative","scale":{"domain":[4,18],"nice":false,"zero":false},"axis":null}}},
    {"data":{"values":[{"pct":"100%","hz":16.51},{"pct":"80%","hz":15.84},{"pct":"60%","hz":15.21},{"pct":"40%","hz":14.13},{"pct":"20%","hz":13.48},{"pct":"0%","hz":12.86}]},"mark":{"type":"rule","strokeWidth":2},
     "encoding":{"x":{"datum":-828,"type":"quantitative","scale":{"domain":[-1000,2300],"nice":false,"zero":false},"axis":null},"x2":{"datum":-620},"y":{"field":"hz","type":"quantitative","scale":{"domain":[4,18],"nice":false,"zero":false},"axis":null},"color":{"field":"pct","type":"nominal","scale":{"domain":["100%","80%","60%","40%","20%","0%"],"range":["#3e62b6","#4a3fa9","#6b2c99","#2f6b4c","#1b8b4c","#27b560"]},"legend":null}}},
    {"data":{"values":[{"pct":"100%","hz":16.51},{"pct":"80%","hz":15.84},{"pct":"60%","hz":15.21},{"pct":"40%","hz":14.13},{"pct":"20%","hz":13.48},{"pct":"0%","hz":12.86}]},"mark":{"type":"text","align":"left","baseline":"middle","fontSize":8,"color":"#1a1a1a"},
     "encoding":{"x":{"datum":-574,"type":"quantitative","scale":{"domain":[-1000,2300],"nice":false,"zero":false},"axis":null},"y":{"field":"hz","type":"quantitative","scale":{"domain":[4,18],"nice":false,"zero":false},"axis":null},"text":{"field":"pct"}}},
    {"data":{"values":[{"t":-562,"hz":17.26,"label":"Percent Cat"},{"t":-505,"hz":4.97,"label":"ti0805151-09-4"}]},"mark":{"type":"text","align":"center","baseline":"middle","color":"#1a1a1a"},
     "encoding":{"x":{"field":"t","type":"quantitative","scale":{"domain":[-1000,2300],"nice":false,"zero":false},"axis":null},"y":{"field":"hz","type":"quantitative","scale":{"domain":[4,18],"nice":false,"zero":false},"axis":null},"text":{"field":"label"},"size":{"condition":{"test":"datum.label === 'Percent Cat'","value":8.3},"value":7.8}}},
    {"data":{"name":"animals"},"mark":{"type":"line","interpolate":"monotone","strokeWidth":2,"clip":true},
     "encoding":{
      "x":{"field":"t","type":"quantitative","scale":{"domain":[-1000,2300],"nice":false,"zero":false},"axis":{"orient":"bottom","values":[-500,0,500,1000,1500,2000],"labelExpr":"'' + datum.value","title":"Time from sample stimulus onset (ms)","titleFontSize":8.5,"tickSize":-3,"labelPadding":8,"titlePadding":6}},
      "y":{"field":"hz","type":"quantitative","scale":{"domain":[4,18],"nice":false,"zero":false},"axis":{"orient":"left","values":[6,8,10,12,14,16,18],"title":"Firing Rate (Hz)","titleFontSize":8.5,"tickSize":-3,"labelPadding":10,"titlePadding":6}},
      "color":{"field":"pct","type":"nominal","scale":{"domain":["100%","80%","60%","40%","20%","0%"],"range":["#3e62b6","#4a3fa9","#6b2c99","#2f6b4c","#1b8b4c","#27b560"]},"legend":null}}},
    {"data":{"values":[{"t":-481,"hz":18.86,"label":"Fixation"},{"t":304,"hz":18.86,"label":"Sample"},{"t":1114,"hz":18.86,"label":"Delay"},{"t":1932,"hz":18.86,"label":"Test"}]},"mark":{"type":"text","align":"center","baseline":"middle","fontSize":11,"color":"#1a1a1a"},
     "encoding":{"x":{"field":"t","type":"quantitative","scale":{"domain":[-1000,2300],"nice":false,"zero":false},"axis":null},"y":{"field":"hz","type":"quantitative","scale":{"domain":[4,18],"nice":false,"zero":false},"axis":null},"text":{"field":"label"}}},
    {"data":{"values":[{"t":655,"hz":20.85,"label":"Animals"},{"t":989,"hz":16.26,"label":"Cats"},{"t":2061,"hz":7.08,"label":"Dogs"}]},"mark":{"type":"text","align":"center","baseline":"middle"},
     "encoding":{"x":{"field":"t","type":"quantitative","scale":{"domain":[-1000,2300],"nice":false,"zero":false},"axis":null},"y":{"field":"hz","type":"quantitative","scale":{"domain":[4,18],"nice":false,"zero":false},"axis":null},"text":{"field":"label"},
      "fill":{"field":"label","type":"nominal","scale":{"domain":["Animals","Cats","Dogs"],"range":["#3b3b9f","#3b3aa6","#2ab35e"]},"legend":null},
      "size":{"condition":{"test":"datum.label === 'Animals'","value":14},"value":11}}},
    {"data":{"values":[{"t":1044,"hz":15.69,"t2":1222,"hz2":14.04}]},"mark":{"type":"rule","color":"#2c2a80","strokeWidth":1.2},
     "encoding":{"x":{"field":"t","type":"quantitative","scale":{"domain":[-1000,2300],"nice":false,"zero":false},"axis":null},"x2":{"field":"t2"},"y":{"field":"hz","type":"quantitative","scale":{"domain":[4,18],"nice":false,"zero":false},"axis":null},"y2":{"field":"hz2"}}},
    {"data":{"values":[{"t":1222,"hz":14.04}]},"mark":{"type":"point","shape":"triangle-up","angle":150,"size":30,"filled":true,"opacity":1,"color":"#2c2a80"},
     "encoding":{"x":{"field":"t","type":"quantitative","scale":{"domain":[-1000,2300],"nice":false,"zero":false},"axis":null},"y":{"field":"hz","type":"quantitative","scale":{"domain":[4,18],"nice":false,"zero":false},"axis":null}}},
    {"data":{"values":[{"t":2015,"hz":7.69,"t2":1888,"hz2":10.08}]},"mark":{"type":"rule","color":"#1fa657","strokeWidth":1.2},
     "encoding":{"x":{"field":"t","type":"quantitative","scale":{"domain":[-1000,2300],"nice":false,"zero":false},"axis":null},"x2":{"field":"t2"},"y":{"field":"hz","type":"quantitative","scale":{"domain":[4,18],"nice":false,"zero":false},"axis":null},"y2":{"field":"hz2"}}},
    {"data":{"values":[{"t":1888,"hz":10.08}]},"mark":{"type":"point","shape":"triangle-up","angle":-16,"size":30,"filled":true,"opacity":1,"color":"#1fa657"},
     "encoding":{"x":{"field":"t","type":"quantitative","scale":{"domain":[-1000,2300],"nice":false,"zero":false},"axis":null},"y":{"field":"hz","type":"quantitative","scale":{"domain":[4,18],"nice":false,"zero":false},"axis":null}}},
    {"data":{"values":[{"t":-1777,"hz":23.2,"label":"C"}]},"mark":{"type":"text","align":"left","baseline":"top","fontSize":21,"color":"#111"},
     "encoding":{"x":{"field":"t","type":"quantitative","scale":{"domain":[-1000,2300],"nice":false,"zero":false},"axis":null},"y":{"field":"hz","type":"quantitative","scale":{"domain":[4,18],"nice":false,"zero":false},"axis":null},"text":{"field":"label"}}},
    {"data":{"values":[{"hz":10}]},"mark":{"type":"point","opacity":0},
     "encoding":{"y":{"field":"hz","type":"quantitative","scale":{"domain":[4,18],"nice":false,"zero":false},"axis":{"orient":"right","values":[6,8,10,12,14,16,18],"labels":false,"title":null,"domain":false,"tickSize":-3}}}}
   ],
   "resolve":{"axis":{"x":"independent","y":"independent"}}
  },
  {"width":237,"height":187,
   "view":{"stroke":"#222","strokeWidth":1},
   "layer":[
    {"data":{"values":[{"t":0},{"t":615},{"t":1630}]},"mark":{"type":"rule","color":"#222","strokeWidth":1.2},
     "encoding":{"x":{"field":"t","type":"quantitative","scale":{"domain":[-1000,2300],"nice":false,"zero":false},"axis":null}}},
    {"data":{"values":[{"t":-921,"t2":-244,"hz":29.51,"hz2":19.08}]},"mark":{"type":"rect","fill":"white","stroke":"#222","strokeWidth":1},
     "encoding":{"x":{"field":"t","type":"quantitative","scale":{"domain":[-1000,2300],"nice":false,"zero":false},"axis":null},"x2":{"field":"t2"},"y":{"field":"hz","type":"quantitative","scale":{"domain":[5,30],"nice":false,"zero":false},"axis":null},"y2":{"field":"hz2"}}},
    {"data":{"values":[{"t":-921,"t2":-244,"hz":22.95}]},"mark":{"type":"rule","color":"#222","strokeWidth":1,"strokeDash":[2,1.5]},
     "encoding":{"x":{"field":"t","type":"quantitative","scale":{"domain":[-1000,2300],"nice":false,"zero":false},"axis":null},"x2":{"field":"t2"},"y":{"field":"hz","type":"quantitative","scale":{"domain":[5,30],"nice":false,"zero":false},"axis":null}}},
    {"data":{"values":[{"pct":"100%","hz":26.16},{"pct":"80%","hz":24.96},{"pct":"60%","hz":23.94},{"pct":"40%","hz":21.94},{"pct":"20%","hz":20.81},{"pct":"0%","hz":19.61}]},"mark":{"type":"rule","strokeWidth":2},
     "encoding":{"x":{"datum":-837,"type":"quantitative","scale":{"domain":[-1000,2300],"nice":false,"zero":false},"axis":null},"x2":{"datum":-628},"y":{"field":"hz","type":"quantitative","scale":{"domain":[5,30],"nice":false,"zero":false},"axis":null},"color":{"field":"pct","type":"nominal","scale":{"domain":["100%","80%","60%","40%","20%","0%"],"range":["#e8252b","#cf4a36","#a35b46","#2a7e99","#1c98d1","#21b3ec"]},"legend":null}}},
    {"data":{"values":[{"pct":"100%","hz":26.16},{"pct":"80%","hz":24.96},{"pct":"60%","hz":23.94},{"pct":"40%","hz":21.94},{"pct":"20%","hz":20.81},{"pct":"0%","hz":19.61}]},"mark":{"type":"text","align":"left","baseline":"middle","fontSize":8,"color":"#1a1a1a"},
     "encoding":{"x":{"datum":-582,"type":"quantitative","scale":{"domain":[-1000,2300],"nice":false,"zero":false},"axis":null},"y":{"field":"hz","type":"quantitative","scale":{"domain":[5,30],"nice":false,"zero":false},"axis":null},"text":{"field":"pct"}}},
    {"data":{"values":[{"t":-582,"hz":28.7,"label":"Percent"},{"t":-582,"hz":27.5,"label":"Sports Car"},{"t":-489,"hz":6.33,"label":"ti0805151-09-4"}]},"mark":{"type":"text","align":"center","baseline":"middle","color":"#1a1a1a"},
     "encoding":{"x":{"field":"t","type":"quantitative","scale":{"domain":[-1000,2300],"nice":false,"zero":false},"axis":null},"y":{"field":"hz","type":"quantitative","scale":{"domain":[5,30],"nice":false,"zero":false},"axis":null},"text":{"field":"label"},"size":{"value":7.8}}},
    {"data":{"name":"cars"},"mark":{"type":"line","interpolate":"monotone","strokeWidth":2,"clip":true},
     "encoding":{
      "x":{"field":"t","type":"quantitative","scale":{"domain":[-1000,2300],"nice":false,"zero":false},"axis":{"orient":"bottom","values":[-500,0,500,1000,1500,2000],"labelExpr":"'' + datum.value","title":"Time from sample stimulus onset (ms)","titleFontSize":8.5,"tickSize":-3,"labelPadding":8,"titlePadding":6}},
      "y":{"field":"hz","type":"quantitative","scale":{"domain":[5,30],"nice":false,"zero":false},"axis":{"orient":"left","values":[10,15,20,25,30],"title":null,"tickSize":-3,"labelPadding":9}},
      "color":{"field":"pct","type":"nominal","scale":{"domain":["100%","80%","60%","40%","20%","0%"],"range":["#e8252b","#cf4a36","#a35b46","#2a7e99","#1c98d1","#21b3ec"]},"legend":null}}},
    {"data":{"values":[{"t":-489,"hz":31.64,"label":"Fixation"},{"t":290,"hz":31.64,"label":"Sample"},{"t":1112,"hz":31.64,"label":"Delay"},{"t":1923,"hz":31.64,"label":"Test"}]},"mark":{"type":"text","align":"center","baseline":"middle","fontSize":11,"color":"#1a1a1a"},
     "encoding":{"x":{"field":"t","type":"quantitative","scale":{"domain":[-1000,2300],"nice":false,"zero":false},"axis":null},"y":{"field":"hz","type":"quantitative","scale":{"domain":[5,30],"nice":false,"zero":false},"axis":null},"text":{"field":"label"}}},
    {"data":{"values":[{"t":555,"hz":35.21,"label":"Cars"},{"t":995,"hz":23.3,"label":"Sedans"},{"t":1808,"hz":6.91,"label":"Sports Cars"}]},"mark":{"type":"text","align":"center","baseline":"middle"},
     "encoding":{"x":{"field":"t","type":"quantitative","scale":{"domain":[-1000,2300],"nice":false,"zero":false},"axis":null},"y":{"field":"hz","type":"quantitative","scale":{"domain":[5,30],"nice":false,"zero":false},"axis":null},"text":{"field":"label"},
      "fill":{"field":"label","type":"nominal","scale":{"domain":["Cars","Sedans","Sports Cars"],"range":["#e8232a","#1ea9e1","#e5232b"]},"legend":null},
      "size":{"condition":{"test":"datum.label === 'Cars'","value":14},"value":11}}},
    {"data":{"values":[{"t":1032,"hz":21.84,"t2":1196,"hz2":19.38}]},"mark":{"type":"rule","color":"#1b9bd5","strokeWidth":1.2},
     "encoding":{"x":{"field":"t","type":"quantitative","scale":{"domain":[-1000,2300],"nice":false,"zero":false},"axis":null},"x2":{"field":"t2"},"y":{"field":"hz","type":"quantitative","scale":{"domain":[5,30],"nice":false,"zero":false},"axis":null},"y2":{"field":"hz2"}}},
    {"data":{"values":[{"t":1196,"hz":19.38}]},"mark":{"type":"point","shape":"triangle-up","angle":148,"size":30,"filled":true,"opacity":1,"color":"#1b9bd5"},
     "encoding":{"x":{"field":"t","type":"quantitative","scale":{"domain":[-1000,2300],"nice":false,"zero":false},"axis":null},"y":{"field":"hz","type":"quantitative","scale":{"domain":[5,30],"nice":false,"zero":false},"axis":null}}},
    {"data":{"values":[{"t":1808,"hz":7.81,"t2":1774,"hz2":10.98}]},"mark":{"type":"rule","color":"#e5232b","strokeWidth":1.2},
     "encoding":{"x":{"field":"t","type":"quantitative","scale":{"domain":[-1000,2300],"nice":false,"zero":false},"axis":null},"x2":{"field":"t2"},"y":{"field":"hz","type":"quantitative","scale":{"domain":[5,30],"nice":false,"zero":false},"axis":null},"y2":{"field":"hz2"}}},
    {"data":{"values":[{"t":1774,"hz":10.98}]},"mark":{"type":"point","shape":"triangle-up","angle":-6,"size":30,"filled":true,"opacity":1,"color":"#e5232b"},
     "encoding":{"x":{"field":"t","type":"quantitative","scale":{"domain":[-1000,2300],"nice":false,"zero":false},"axis":null},"y":{"field":"hz","type":"quantitative","scale":{"domain":[5,30],"nice":false,"zero":false},"axis":null}}},
    {"data":{"values":[{"hz":10}]},"mark":{"type":"point","opacity":0},
     "encoding":{"y":{"field":"hz","type":"quantitative","scale":{"domain":[5,30],"nice":false,"zero":false},"axis":{"orient":"right","values":[10,15,20,25,30],"labels":false,"title":null,"domain":false,"tickSize":-3}}}}
   ],
   "resolve":{"axis":{"x":"independent","y":"independent"}}
  }
],
"columns":2,
"spacing":{"row":123,"column":40},
"bounds":"flush",
"align":"all",
"resolve":{"scale":{"color":"independent","fill":"independent"}}
}
